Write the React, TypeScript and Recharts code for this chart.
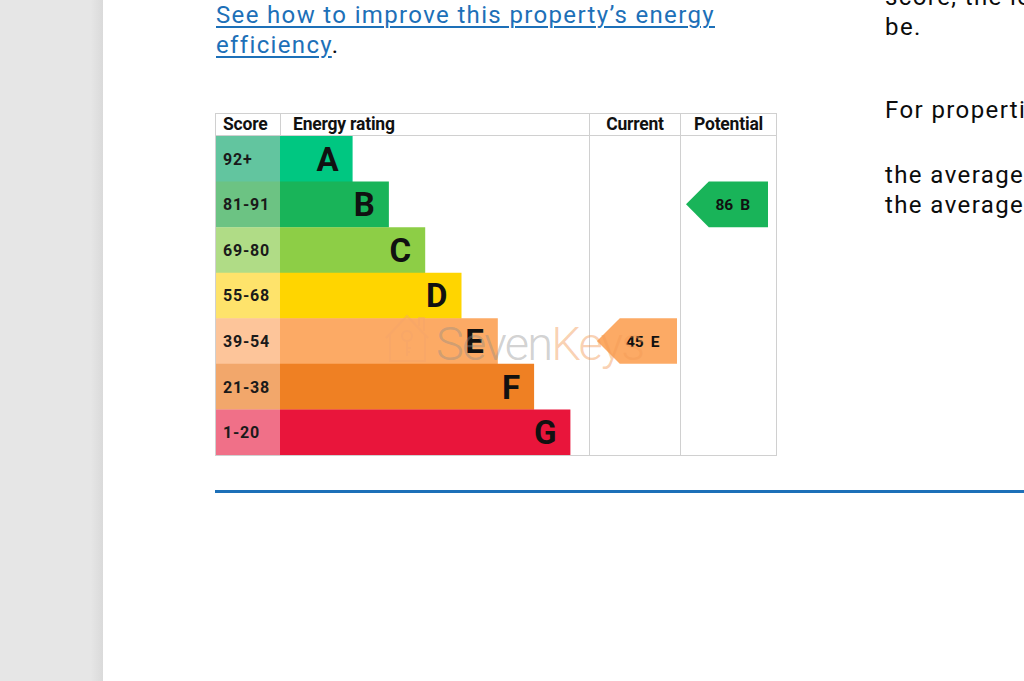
import React from 'react';
import {
  BarChart,
  Bar,
  XAxis,
  YAxis,
  Cell,
  LabelList,
  ReferenceArea,
  ReferenceLine,
} from 'recharts';

const bands = ['A', 'B', 'C', 'D', 'E', 'F', 'G'];
const scoreRanges = ['92+', '81-91', '69-80', '55-68', '39-54', '21-38', '1-20'];
const bandMinScores = [92, 81, 69, 55, 39, 21, 1];
const barSteps = [2, 3, 4, 5, 6, 7, 8];
const bandColors = ['#00c781', '#19b459', '#8dce46', '#ffd500', '#fcaa65', '#ef8023', '#e9153b'];
const scoreCellColors = ['#62c59f', '#6cc383', '#b0dc86', '#fee36b', '#fdc59a', '#f2a76b', '#f07088'];
const currentScore = 45;
const potentialScore = 86;

// table layout, px
const CHART_W = 560;
const CHART_H = 319;
const COL_SCORE = 64;
const COL_RATING = 309;
const COL_CURRENT = 91;
const COL_POTENTIAL = 96;
const STEP = 36.3; // width of one rating step
const u = (px: number) => px / STEP;
const GRID = '#d0d0d0';
const FONT = 'Roboto, "Noto Sans", sans-serif';

const data = bands.map((band, i) => ({
  band,
  range: scoreRanges[i],
  scoreCell: u(COL_SCORE),
  steps: barSteps[i],
}));

const bandIndex = (score: number) => bandMinScores.findIndex((m) => score >= m);

const arrowShape = (label: string, fill: string) => (props: any) => {
  const { x, y, width, height } = props;
  const tip = height / 2;
  const pts = `${x},${y + height / 2} ${x + tip},${y} ${x + width},${y} ${x + width},${y + height} ${x + tip},${y + height}`;
  return (
    <g>
      <polygon points={pts} fill={fill} />
      <text
        x={x + width * 0.57}
        y={y + height / 2}
        dy="0.36em"
        textAnchor="middle"
        fontFamily={FONT}
        fontWeight={700}
        fontSize={15.5}
        letterSpacing={-0.2}
        fill="#111"
      >
        {label}
      </text>
    </g>
  );
};

const Arrow = ({ score, colStart, colEnd }: { score: number; colStart: number; colEnd: number }) => {
  const i = bandIndex(score);
  return (
    <ReferenceArea
      x1={u(colStart)}
      x2={u(colEnd)}
      y1={bands[i]}
      y2={bands[i]}
      shape={arrowShape(`${score}\u00a0\u00a0${bands[i]}`, bandColors[i])}
    />
  );
};

const headerCell = (w: number, text: string, align: 'left' | 'center', border: boolean) => (
  <div
    style={{
      width: w,
      boxSizing: 'border-box',
      borderLeft: border ? `1px solid ${GRID}` : 'none',
      textAlign: align,
      paddingLeft: align === 'left' ? (border ? 12 : 7) : 0,
      fontWeight: 700,
      fontSize: 17.5,
      lineHeight: '21px',
      letterSpacing: -0.2,
      color: '#111',
    }}
  >
    {text}
  </div>
);

const EpcTable = () => {
  const curStart = COL_SCORE + COL_RATING;
  const potStart = curStart + COL_CURRENT;
  return (
    <div
      style={{
        position: 'absolute',
        left: 215,
        top: 113,
        width: CHART_W + 2,
        height: CHART_H + 24,
        border: `1px solid ${GRID}`,
        boxSizing: 'border-box',
        background: '#fff',
      }}
    >
      <div style={{ display: 'flex', height: 21, borderBottom: `1px solid ${GRID}` }}>
        {headerCell(COL_SCORE, 'Score', 'left', false)}
        {headerCell(COL_RATING, 'Energy rating', 'left', true)}
        {headerCell(COL_CURRENT, 'Current', 'center', true)}
        {headerCell(COL_POTENTIAL, 'Potential', 'center', true)}
      </div>
      <BarChart
        width={CHART_W}
        height={CHART_H}
        data={data}
        layout="vertical"
        margin={{ top: 0, right: 0, bottom: 0, left: 0 }}
        barCategoryGap={0}
      >
        <XAxis type="number" hide domain={[0, u(CHART_W)]} allowDataOverflow />
        <YAxis type="category" dataKey="band" hide />
        <Bar dataKey="scoreCell" stackId="s" isAnimationActive={false}>
          {data.map((_, i) => (
            <Cell key={`sc-${i}`} fill={scoreCellColors[i]} />
          ))}
          <LabelList
            dataKey="range"
            position="insideLeft"
            offset={7}
            fill="#1a1a1a"
            fontFamily={FONT}
            fontWeight={700}
            fontSize={16}
            letterSpacing={0.8}
          />
        </Bar>
        <Bar dataKey="steps" stackId="s" isAnimationActive={false}>
          {data.map((_, i) => (
            <Cell key={`b-${i}`} fill={bandColors[i]} />
          ))}
          <LabelList
            dataKey="band"
            position="insideRight"
            offset={14}
            fill="#111"
            fontFamily={FONT}
            fontWeight={700}
            fontSize={33}
          />
        </Bar>
        <ReferenceLine x={u(curStart + 0.5)} stroke={GRID} />
        <ReferenceLine x={u(potStart + 0.5)} stroke={GRID} />
        {Arrow({ score: currentScore, colStart: curStart + 8, colEnd: potStart - 3 })}
        {Arrow({ score: potentialScore, colStart: potStart + 6, colEnd: potStart + COL_POTENTIAL - 8 })}
      </BarChart>
    </div>
  );
};

const Watermark = () => (
  <svg
    width={300}
    height={75}
    style={{ position: 'absolute', left: 375, top: 300, pointerEvents: 'none' }}
  >
    <g fill="none" stroke="#f4a46b" strokeWidth={2} opacity={0.45}>
      <path d="M11 38 L32 16 L53 38 M15 34 L15 61 L50 61 L50 34 M44 26 L44 18 L49 18 L49 31" />
      <circle cx={32} cy={36} r={5} />
      <path d="M32 41 L32 56 M32 48 L36 48 M32 52 L35 52" />
    </g>
    <text x={61} y={60} fontFamily={FONT} fontWeight={300} fontSize={47} letterSpacing={-1.8}>
      <tspan fill="#8a8a8a" fillOpacity={0.4}>Seven</tspan>
      <tspan fill="#f39a55" fillOpacity={0.45}>Keys</tspan>
    </text>
  </svg>
);

const textLine = (top: number, text: string) => (
  <div
    style={{
      position: 'absolute',
      left: 885,
      top,
      fontSize: 24,
      lineHeight: '30px',
      letterSpacing: 1.4,
      color: '#0b0c0c',
      whiteSpace: 'nowrap',
    }}
  >
    {text}
  </div>
);

const linkStyle: React.CSSProperties = {
  color: '#1d70b8',
  textDecoration: 'underline',
  textDecorationThickness: 2,
  textUnderlineOffset: 3,
};

export default function App() {
  return (
    <div
      style={{
        position: 'absolute',
        left: 0,
        top: 0,
        width: 1024,
        height: 681,
        overflow: 'hidden',
        background: '#fff',
        fontFamily: FONT,
      }}
    >
      <div
        style={{
          position: 'absolute',
          left: 0,
          top: 0,
          width: 103,
          height: 681,
          background: 'linear-gradient(to right, #e6e6e6 88%, #dadada)',
        }}
      />
      <div
        style={{
          position: 'absolute',
          left: 216,
          top: 0,
          fontSize: 24,
          lineHeight: '30px',
          letterSpacing: 1.35,
          color: '#0b0c0c',
          whiteSpace: 'nowrap',
        }}
      >
        <span style={linkStyle}>See how to improve this property’s energy</span>
        <br />
        <span style={linkStyle}>efficiency</span>.
      </div>
      {textLine(-18, 'score, the lower your energy bills are likely to')}
      {textLine(12, 'be.')}
      {textLine(95, 'For properties in England and Wales:')}
      {textLine(160, 'the average energy rating is D')}
      {textLine(190, 'the average energy score is 60')}
      <EpcTable />
      <Watermark />
      <div
        style={{
          position: 'absolute',
          left: 215,
          top: 490,
          width: 809,
          height: 3,
          background: '#1d70b8',
        }}
      />
    </div>
  );
}
